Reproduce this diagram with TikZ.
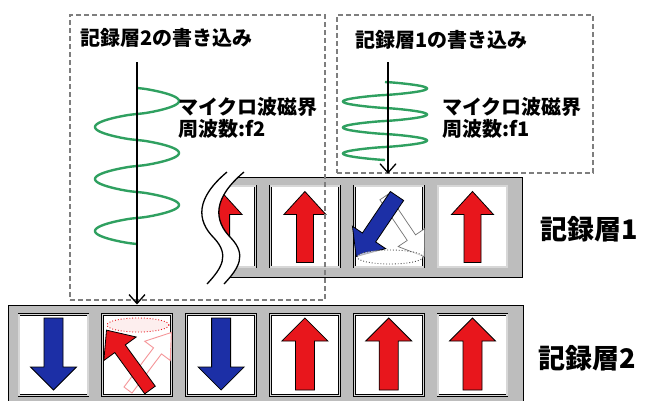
\documentclass[tikz,border=0pt]{standalone}
\usepackage{fontspec}
\newfontfamily\jpfont{Noto Sans CJK JP}
\usetikzlibrary{arrows.meta, calc, positioning}
\definecolor{SpinRed}{HTML}{E8161C}
\definecolor{SpinBlue}{HTML}{1C2FA6}
\definecolor{CoilGreen}{HTML}{2FA060}
\definecolor{StripGray}{HTML}{BDBDBD}
\definecolor{BoxGray}{HTML}{7E7E7E}
\tikzset{
    % recording layer strips and cells
    stripbox/.style={
        rectangle,
        draw=black,
        line width=1pt,
        fill=StripGray,
        inner sep=0pt
    },
    cellbox/.style={
        rectangle,
        draw=black,
        line width=0.9pt,
        double=StripGray!60,
        double distance=1.1pt,
        fill=white,
        minimum width=69pt,
        minimum height=81pt,
        inner sep=0pt
    },
    % dashed write regions
    writebox/.style={
        rectangle,
        draw=BoxGray,
        line width=1.4pt,
        dash pattern=on 5pt off 3pt,
        inner sep=0pt
    },
    % microwave field
    coil/.style={
        CoilGreen,
        line width=2.4pt
    },
    fieldarrow/.style={
        -{Straight Barb[length=9pt,width=16pt]},
        line width=1.3pt
    },
    % magnetisation arrows
    spinred/.style={fill=SpinRed, draw=black, line width=0.8pt, line join=miter},
    spinblue/.style={fill=SpinBlue, draw=black, line width=0.8pt, line join=miter},
    ghostwhite/.style={fill=white, draw=black!55, line width=0.7pt},
    ghostred/.style={fill=white, draw=SpinRed!45, line width=0.9pt},
    cone/.style={line width=0.9pt, dotted},
    % labels
    jplabel/.style={
        font=\jpfont\bfseries\fontsize{20}{22}\selectfont,
        inner sep=0pt,
        anchor=west,
        align=left
    },
    layerlabel/.style={
        font=\jpfont\bfseries\fontsize{27}{30}\selectfont,
        inner sep=0pt,
        anchor=west
    }
}
% block arrow: style, tail, rotation, length, shaft half width, head half width
\newcommand{\spinarrow}[6]{%
    \draw[#1, shift={#2}, rotate=#3] (-#5,0) -- (-#5,-#4+23) -- (-#6,-#4+23) -- (0,-#4)
        -- (#6,-#4+23) -- (#5,-#4+23) -- (#5,0) -- cycle;}

\begin{document}
\begin{tikzpicture}[x=1pt, y=-1pt]
    \clip (0,0) rectangle (647,400);

    % Layer 2 strip with six cells
    \node[stripbox, minimum width=515pt, minimum height=107pt] (layer2) at (265.5,358.5) {};
    \foreach \i in {1,...,6} {
        \node[cellbox] (bot-\i) at ({53.5+83.8*(\i-1)},355) {};
    }
    \foreach \i in {1,3} {
        \spinarrow{spinblue}{($(bot-\i.center)+(0,-37)$)}{180}{72}{9.5}{23}
    }
    \foreach \i in {4,5,6} {
        \spinarrow{spinred}{($(bot-\i.center)+(0,35)$)}{0}{72}{9.5}{23}
    }
    % precessing spin in layer 2
    \spinarrow{ghostred}{(128,390)}{-37}{72}{5}{16}
    \spinarrow{spinred}{(150,390)}{36}{74}{6.5}{20}
    \draw[cone, SpinRed, fill=SpinRed!12, fill opacity=0.6] (138,325) ellipse [x radius=31, y radius=7];

    % Layer 1 strip, broken off on the left
    \begin{scope}
        \clip (244,172) .. controls (213,198) and (213,220) .. (231,238)
              .. controls (247,255) and (239,268) .. (224,284) -- (530,284) -- (530,172) -- cycle;
        \path[stripbox] (190,177) rectangle (522,277);
        \foreach \i in {3,...,6} {
            \node[cellbox] (top-\i) at ({53.5+83.8*(\i-1)},226.5) {};
        }
        \foreach \i in {3,4,6} {
            \spinarrow{spinred}{($(top-\i.center)+(0,36)$)}{0}{71}{8.5}{21}
        }
        % precessing spin in layer 1
        \spinarrow{ghostwhite}{(384,197)}{214}{72}{5}{16}
        \spinarrow{spinblue}{(397,196)}{146}{73}{8}{20}
        \draw[cone, black!70, fill=white, fill opacity=0.7] (390,257) ellipse [x radius=33, y radius=7];
    \end{scope}
    \draw[line width=1.3pt] (227,172) .. controls (196,198) and (196,220) .. (214,238)
          .. controls (230,255) and (222,268) .. (207,284);
    \draw[line width=1.3pt] (244,172) .. controls (213,198) and (213,220) .. (231,238)
          .. controls (247,255) and (239,268) .. (224,284);

    % Write regions
    \node[writebox, minimum width=255pt, minimum height=285pt] (box2) at (197.5,157.5) {};
    \node[writebox, minimum width=256pt, minimum height=158pt] (box1) at (465,94) {};
    \node[jplabel] (title2) at (80,38) {記録層2の書き込み};
    \node[jplabel] (title1) at (355,40) {記録層1の書き込み};

    % Microwave fields (rounded helix turns)
    \draw[coil] plot[domain=0:1080, samples=217, smooth]
        ({137+42*sin(\x)*(abs(sin(\x))+0.001)^(-0.25)}, {88+\x/1080*156});
    \draw[coil] plot[domain=0:1080, samples=217, smooth]
        ({385+42*sin(\x)*(abs(sin(\x))+0.001)^(-0.2)}, {82+\x/1080*78});
    \coordinate (f2src) at (137,62);
    \coordinate (f1src) at (388,62);
    \draw[fieldarrow] (f2src) -- (f2src |- layer2.north);
    \draw[fieldarrow] (f1src) -- (f1src |- box1.south);
    \node[jplabel] (mw2) at (178,118) {マイクロ波磁界\\周波数:f2};
    \node[jplabel] (mw1) at (442,118) {マイクロ波磁界\\周波数:f1};

    % Layer names
    \node[layerlabel] (lab1) at (540,229) {記録層1};
    \node[layerlabel] (lab2) at (538,358) {記録層2};
\end{tikzpicture}
\end{document}
